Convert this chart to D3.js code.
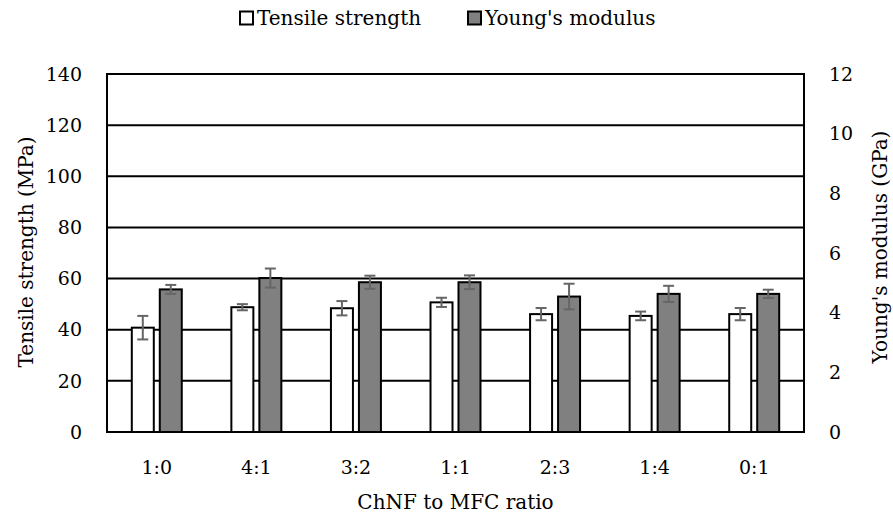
<!DOCTYPE html>
<html>
<head>
<meta charset="utf-8">
<script src="https://cdn.jsdelivr.net/npm/d3@7"></script>
<style>
  body { margin: 0; background: #fff; }
</style>
</head>
<body>
<div id="chart"></div>
<script>
const categories = ["1:0", "4:1", "3:2", "1:1", "2:3", "1:4", "0:1"];
const tensile = [40.8, 48.8, 48.4, 50.7, 46.1, 45.4, 46.1];
const tensileErr = [4.6, 1.2, 2.8, 1.8, 2.4, 1.7, 2.4];
const modulus = [4.78, 5.16, 5.02, 5.02, 4.54, 4.63, 4.63];
const modulusErr = [0.15, 0.32, 0.22, 0.23, 0.43, 0.27, 0.14];
const leftTicks = [0, 20, 40, 60, 80, 100, 120, 140];
const rightTicks = [0, 2, 4, 6, 8, 10, 12];
const seriesNames = ["Tensile strength", "Young's modulus"];

let margin = {"top": 74, "right": 89, "bottom": 85, "left": 107};
let width = 893 - margin.left - margin.right;
let height = 517 - margin.top - margin.bottom;
let font = "'DejaVu Serif', 'Liberation Serif', 'Times New Roman', Times, serif";

var svg = d3.select("#chart")
            .append("svg")
            .attr("width", 893)
            .attr("height", 517)
            .attr("font-family", font);
var g = svg.append("g")
           .attr("transform", "translate(" + margin.left + "," + margin.top + ")");

// scales
var x = d3.scaleBand().domain(categories).range([0, width]).padding(0);
var xs = d3.scaleBand().domain(["t", "m"]).range([0, x.bandwidth()])
           .paddingInner(0.214).paddingOuter(0.886);
var yL = d3.scaleLinear().domain([0, 140]).range([height, 0]);
var yR = d3.scaleLinear().domain([0, 12]).range([height, 0]);

// gridlines
g.selectAll(".grid")
 .data(leftTicks.slice(1, -1))
 .enter()
 .append("line")
 .attr("x1", 0).attr("x2", width)
 .attr("y1", d => yL(d)).attr("y2", d => yL(d))
 .attr("stroke", "#000").attr("stroke-width", 2);

// plot frame
g.append("rect")
 .attr("x", 0).attr("y", 0)
 .attr("width", width).attr("height", height)
 .attr("fill", "none").attr("stroke", "#000").attr("stroke-width", 2);

// bars
var bars = [];
categories.forEach((c, i) => {
  bars.push({cat: c, key: "t", y: yL(tensile[i]), hi: yL(tensile[i] + tensileErr[i]), lo: yL(tensile[i] - tensileErr[i]), fill: "#fff"});
  bars.push({cat: c, key: "m", y: yR(modulus[i]), hi: yR(modulus[i] + modulusErr[i]), lo: yR(modulus[i] - modulusErr[i]), fill: "#808080"});
});

g.selectAll(".bar")
 .data(bars)
 .enter()
 .append("rect")
 .attr("x", d => x(d.cat) + xs(d.key))
 .attr("y", d => d.y)
 .attr("width", xs.bandwidth())
 .attr("height", d => height - d.y)
 .attr("fill", d => d.fill)
 .attr("stroke", "#000")
 .attr("stroke-width", 2);

// error bars
var eb = g.selectAll(".err")
          .data(bars)
          .enter()
          .append("g")
          .attr("stroke", "#666")
          .attr("stroke-width", 2);
eb.append("line")
  .attr("x1", d => x(d.cat) + xs(d.key) + xs.bandwidth() / 2)
  .attr("x2", d => x(d.cat) + xs(d.key) + xs.bandwidth() / 2)
  .attr("y1", d => d.hi).attr("y2", d => d.lo);
["hi", "lo"].forEach(k => {
  eb.append("line")
    .attr("x1", d => x(d.cat) + xs(d.key) + xs.bandwidth() / 2 - 5.5)
    .attr("x2", d => x(d.cat) + xs(d.key) + xs.bandwidth() / 2 + 5.5)
    .attr("y1", d => d[k]).attr("y2", d => d[k]);
});

// axes labels (no tick marks)
var fs = 19;
var ts = 20;
g.selectAll(".yl")
 .data(leftTicks)
 .enter()
 .append("text")
 .attr("x", -25)
 .attr("y", d => yL(d))
 .attr("dy", "0.35em")
 .attr("text-anchor", "end")
 .style("font-size", fs + "px")
 .text(d => d);

g.selectAll(".yr")
 .data(rightTicks)
 .enter()
 .append("text")
 .attr("x", width + 25)
 .attr("y", d => yR(d))
 .attr("dy", "0.35em")
 .attr("text-anchor", "start")
 .style("font-size", fs + "px")
 .text(d => d);

g.selectAll(".xl")
 .data(categories)
 .enter()
 .append("text")
 .attr("x", d => x(d) + x.bandwidth() / 2)
 .attr("y", height + 35)
 .attr("dy", "0.35em")
 .attr("text-anchor", "middle")
 .style("font-size", fs + "px")
 .text(d => d);

svg.append("text")
   .attr("x", margin.left + width / 2)
   .attr("y", 502)
   .attr("dy", "0.35em")
   .attr("text-anchor", "middle")
   .style("font-size", ts + "px")
   .text("ChNF to MFC ratio");

svg.append("text")
   .attr("transform", "translate(26,252) rotate(-90)")
   .attr("dy", "0.35em")
   .attr("text-anchor", "middle")
   .style("font-size", ts + "px")
   .text("Tensile strength (MPa)");

svg.append("text")
   .attr("transform", "translate(880,247) rotate(-90)")
   .attr("dy", "0.35em")
   .attr("text-anchor", "middle")
   .style("font-size", ts + "px")
   .text("Young's modulus (GPa)");

// legend
var legendX = [240, 468];
var legend = svg.selectAll(".legend")
                .data(seriesNames)
                .enter()
                .append("g")
                .attr("transform", (d, i) => "translate(" + legendX[i] + ",18)");
legend.append("rect")
      .attr("x", 0).attr("y", -6.5)
      .attr("width", 13).attr("height", 13)
      .attr("fill", (d, i) => i === 0 ? "#fff" : "#808080")
      .attr("stroke", "#000").attr("stroke-width", 2);
legend.append("text")
      .attr("x", 17)
      .attr("y", 0)
      .attr("dy", "0.35em")
      .style("font-size", ts + "px")
      .text(d => d);
</script>
</body>
</html>
